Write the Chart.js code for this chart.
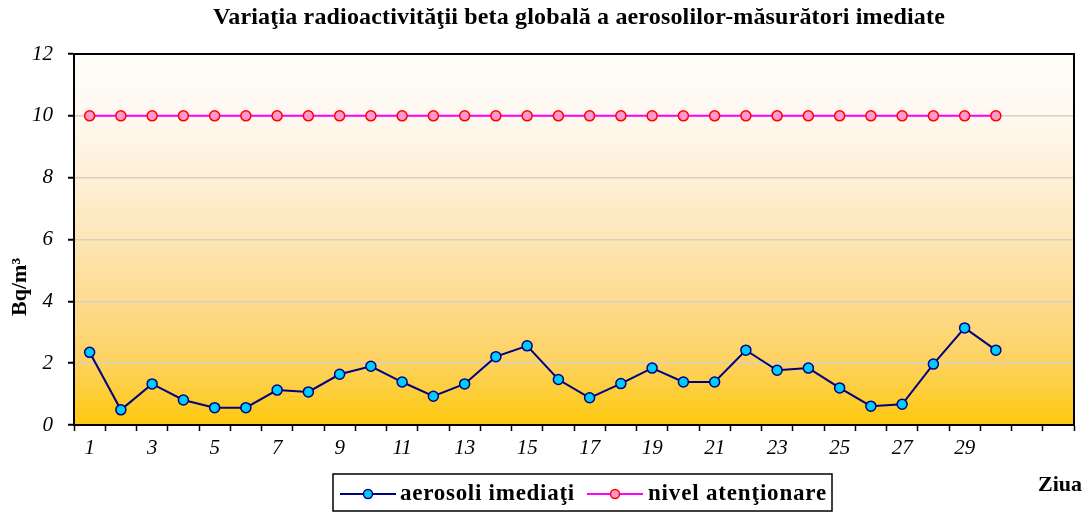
<!DOCTYPE html>
<html lang="ro">
<head>
  <meta charset="UTF-8" />
  <title>Variaţia radioactivităţii beta globală a aerosolilor</title>
  <script src="https://cdn.jsdelivr.net/npm/chart.js"></script>
  <style>
    body {
      margin: 0;
      background: #fff;
    }
    #grafic {
      display: block;
    }
  </style>
</head>
<body>
  <canvas id="grafic" width="1088" height="512"></canvas>

  <script>
    // zilele lunii (ultimele doua categorii raman goale)
    const zile = ['1','2','3','4','5','6','7','8','9','10','11','12','13','14','15',
                  '16','17','18','19','20','21','22','23','24','25','26','27','28','29','30','',''];

    const aerosoliImediati = [2.35, 0.49, 1.33, 0.81, 0.56, 0.56, 1.13, 1.07, 1.64, 1.90,
                              1.39, 0.93, 1.33, 2.21, 2.56, 1.47, 0.88, 1.34, 1.84, 1.39,
                              1.39, 2.42, 1.77, 1.84, 1.20, 0.61, 0.67, 1.97, 3.14, 2.42];

    const nivelAtentionare = [10, 10, 10, 10, 10, 10, 10, 10, 10, 10,
                              10, 10, 10, 10, 10, 10, 10, 10, 10, 10,
                              10, 10, 10, 10, 10, 10, 10, 10, 10, 10];

    const titlu = 'Variaţia radioactivităţii beta globală a aerosolilor-măsurători imediate';
    const FONT = "'Liberation Serif', 'Times New Roman', serif";

    // text cu spatiere ajustata ca sa ocupe latimea dorita
    function textLat(ctx, text, x, y, lat) {
      ctx.letterSpacing = '0px';
      const w = ctx.measureText(text).width;
      ctx.letterSpacing = ((lat - w) / text.length) + 'px';
      ctx.fillText(text, x, y);
      ctx.letterSpacing = '0px';
    }

    // fundal gradient + chenar + texte suplimentare
    const decor = {
      id: 'decor',
      beforeDraw(chart) {
        const { ctx, chartArea: a } = chart;
        const g = ctx.createLinearGradient(0, a.top, 0, a.bottom);
        g.addColorStop(0, '#fffdfa');
        g.addColorStop(0.17, '#fef8ef');
        g.addColorStop(0.33, '#fef0d8');
        g.addColorStop(0.5, '#fde6b6');
        g.addColorStop(0.67, '#fddb8f');
        g.addColorStop(0.83, '#fdd260');
        g.addColorStop(1, '#fdc90e');
        ctx.save();
        ctx.fillStyle = g;
        ctx.fillRect(a.left, a.top, a.right - a.left, a.bottom - a.top);
        ctx.restore();
      },
      afterDraw(chart) {
        const { ctx, chartArea: a } = chart;
        ctx.save();
        // chenar sus / dreapta
        ctx.strokeStyle = '#000';
        ctx.lineWidth = 2;
        ctx.beginPath();
        ctx.moveTo(a.left, a.top);
        ctx.lineTo(a.right, a.top);
        ctx.lineTo(a.right, a.bottom);
        ctx.stroke();

        ctx.fillStyle = '#000';
        ctx.textBaseline = 'middle';

        // titlu
        ctx.font = 'bold 24px ' + FONT;
        ctx.textAlign = 'left';
        textLat(ctx, titlu, 213, 18, 732);

        // Ziua
        ctx.font = 'bold 22px ' + FONT;
        ctx.fillText('Ziua', 1038, 485);

        // titlu axa y
        ctx.save();
        ctx.translate(20, 287);
        ctx.rotate(-Math.PI / 2);
        ctx.textAlign = 'center';
        ctx.fillText('Bq/m³', 0, 0);
        ctx.restore();

        // legenda
        ctx.strokeStyle = '#000';
        ctx.lineWidth = 1.5;
        ctx.strokeRect(333, 474, 499, 37);
        const items = [
          { text: 'aerosoli imediaţi', x0: 340, x1: 396, tx: 400, tw: 175, line: '#000080', fill: '#00ccff', border: '#000080' },
          { text: 'nivel atenţionare', x0: 587, x1: 643, tx: 648, tw: 179, line: '#ff00ff', fill: '#ff99cc', border: '#ff0000' }
        ];
        ctx.font = 'bold 23px ' + FONT;
        items.forEach(it => {
          ctx.strokeStyle = it.line;
          ctx.lineWidth = 2;
          ctx.beginPath();
          ctx.moveTo(it.x0, 494);
          ctx.lineTo(it.x1, 494);
          ctx.stroke();
          ctx.beginPath();
          ctx.arc((it.x0 + it.x1) / 2, 494, 4.5, 0, Math.PI * 2);
          ctx.fillStyle = it.fill;
          ctx.fill();
          ctx.strokeStyle = it.border;
          ctx.lineWidth = 1.5;
          ctx.stroke();
          ctx.fillStyle = '#000';
          textLat(ctx, it.text, it.tx, 494, it.tw);
        });
        ctx.restore();
      }
    };

    const ctx = document.getElementById('grafic').getContext('2d');
    new Chart(ctx, {
      type: 'line',
      data: {
        labels: zile,
        datasets: [
          {
            label: 'aerosoli imediaţi',
            data: aerosoliImediati,
            borderColor: '#000080',
            borderWidth: 2,
            pointBackgroundColor: '#00ccff',
            pointBorderColor: '#000080',
            pointBorderWidth: 1.5,
            pointRadius: 5,
            tension: 0
          },
          {
            label: 'nivel atenţionare',
            data: nivelAtentionare,
            borderColor: '#ff00ff',
            borderWidth: 2,
            pointBackgroundColor: '#ff99cc',
            pointBorderColor: '#ff0000',
            pointBorderWidth: 1.5,
            pointRadius: 5,
            tension: 0
          }
        ]
      },
      options: {
        responsive: false,
        animation: false,
        layout: { padding: { top: 54, right: 14, bottom: 0, left: 0 } },
        plugins: {
          legend: { display: false },
          title: { display: false },
          tooltip: { enabled: false }
        },
        scales: {
          x: {
            offset: true,
            afterFit(scale) { scale.height = 87; },
            grid: {
              offset: true,
              drawOnChartArea: false,
              tickColor: '#000',
              tickLength: 6,
              tickWidth: 1.5
            },
            border: { display: true, color: '#000', width: 2 },
            ticks: {
              autoSkip: false,
              maxRotation: 0,
              padding: 5,
              color: '#000',
              font: { family: FONT, size: 21, style: 'italic' },
              callback: (v, i) => (i % 2 === 0 ? zile[i] : '')
            }
          },
          y: {
            min: 0,
            max: 12,
            afterFit(scale) { scale.width = 74; },
            grid: {
              color: '#d6cfc2',
              lineWidth: 1.5,
              tickColor: '#000',
              tickLength: 6,
              tickWidth: 2
            },
            border: { display: true, color: '#000', width: 2 },
            ticks: {
              stepSize: 2,
              padding: 15,
              color: '#000',
              font: { family: FONT, size: 21, style: 'italic' }
            }
          }
        }
      },
      plugins: [decor]
    });
  </script>
</body>
</html>
